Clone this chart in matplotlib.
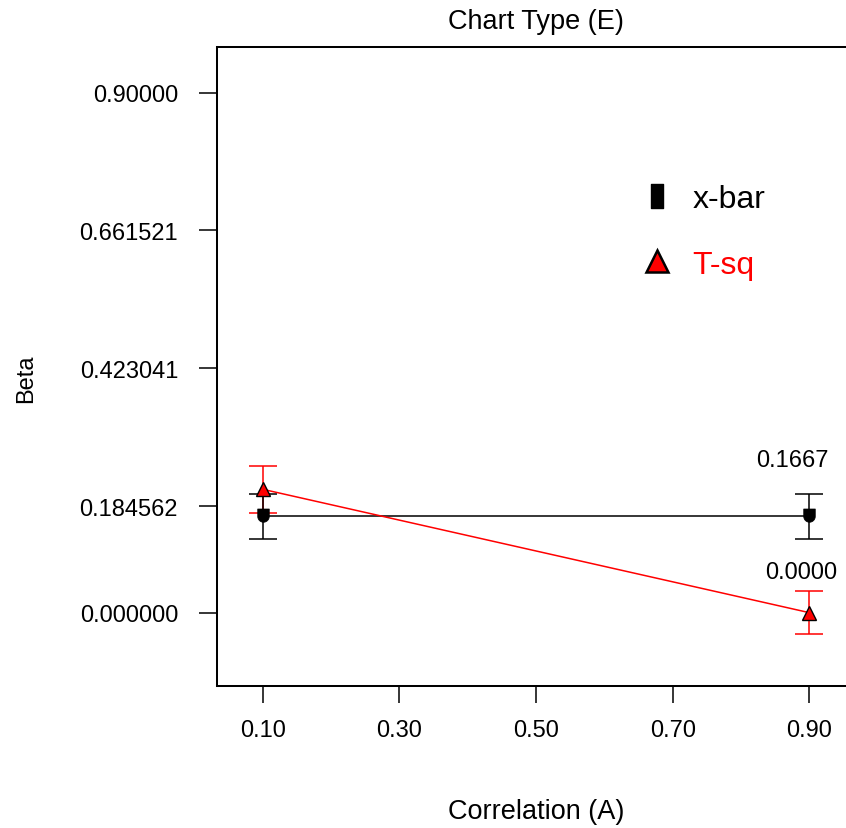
import numpy as np
import matplotlib
matplotlib.use('Agg')
import matplotlib.pyplot as plt
from matplotlib.path import Path
from matplotlib.lines import Line2D

# ---- data ----
correlation = [0.10, 0.90]
xbar_beta = [0.1667, 0.1667]
tsq_beta = [0.2136, 0.0000]
xbar_err = [0.039, 0.039]
tsq_err = [0.041, 0.037]
series_names = ['x-bar', 'T-sq']
xbar_annot = '0.1667'
tsq_annot = '0.0000'
x_ticks = [0.10, 0.30, 0.50, 0.70, 0.90]
x_ticklabels = ['0.10', '0.30', '0.50', '0.70', '0.90']
y_ticks = [0.90000, 0.661521, 0.423041, 0.184562, 0.0]
y_ticklabels = ['0.90000', '0.661521', '0.423041', '0.184562', '0.000000']

plt.rcParams['font.family'] = ['Liberation Sans', 'DejaVu Sans']

fig = plt.figure(figsize=(8.46, 8.29), dpi=100)
ax = fig.add_axes([217 / 846, 142 / 829, 638 / 846, 639 / 829])

# shield-shaped marker (square top, round bottom)
theta = np.linspace(0, -np.pi, 24)
verts = [(-1, 1.3), (1, 1.3)] + [(np.cos(t), np.sin(t)) for t in theta] + [(-1, 1.3)]
shield = Path(verts, closed=True)

# error bars
ax.errorbar(correlation, tsq_beta, yerr=tsq_err, fmt='none', ecolor='red',
            elinewidth=1.1, capsize=10, capthick=1.1, zorder=2)
ax.errorbar(correlation, xbar_beta, yerr=xbar_err, fmt='none', ecolor='black',
            elinewidth=1.1, capsize=10, capthick=1.1, zorder=2)

# lines
ax.plot(correlation, xbar_beta, color='black', lw=1.1, zorder=3)
ax.plot(correlation, tsq_beta, color='red', lw=1.1, zorder=3)

# markers
ax.plot(correlation, tsq_beta, linestyle='none', marker='^', ms=10.5,
        mfc='red', mec='black', mew=1.0, zorder=4)
ax.plot(correlation, xbar_beta, linestyle='none', marker=shield, ms=10.8,
        mfc='black', mec='black', mew=0.5, zorder=5)

# value annotations at the last level
ax.annotate(xbar_annot, (correlation[-1], xbar_beta[-1] + xbar_err[-1]),
            xytext=(-17, 34), textcoords='offset pixels', ha='center', va='center',
            fontsize=17)
ax.annotate(tsq_annot, (correlation[-1], tsq_beta[-1] + tsq_err[-1]),
            xytext=(-8, 19), textcoords='offset pixels', ha='center', va='center',
            fontsize=17)

# legend
rect = Path([(-0.5, -1), (0.5, -1), (0.5, 1), (-0.5, 1), (-0.5, -1)], closed=True)
handles = [
    Line2D([], [], linestyle='none', marker=rect, ms=17, mfc='black', mec='black'),
    Line2D([], [], linestyle='none', marker='^', ms=16, mfc='red', mec='black', mew=1.8),
]
leg = ax.legend(handles, series_names, loc='upper left', bbox_to_anchor=(0.62, 0.83),
                frameon=False, fontsize=23, handlelength=1.0, handletextpad=0.6,
                labelspacing=1.1, labelcolor=['black', 'red'])

# axes
ax.set_xlim(0.0333, 0.9667)
ax.set_ylim(-0.1269, 0.979)
ax.set_xticks(x_ticks)
ax.set_xticklabels(x_ticklabels)
ax.set_yticks(y_ticks)
ax.set_yticklabels(y_ticklabels)
ax.tick_params(axis='y', length=13, width=1.1, pad=15, labelsize=17)
ax.tick_params(axis='x', length=12, width=1.1, pad=12, labelsize=17)
for s in ax.spines.values():
    s.set_linewidth(1.45)

ax.set_title('Chart Type (E)', fontsize=19.5, pad=14)
ax.set_xlabel('Correlation (A)', fontsize=19.5)
ax.xaxis.set_label_coords(0.5, -0.176)
ax.set_ylabel('Beta', fontsize=17)
ax.yaxis.set_label_coords(-0.282, 0.483)

fig.savefig('out.png', dpi=100)
